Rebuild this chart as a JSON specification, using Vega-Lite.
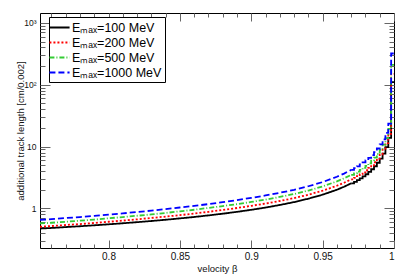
{
  "$schema": "https://vega.github.io/schema/vega-lite/v6.json",
  "width": 354,
  "height": 235,
  "autosize": {"type": "none"},
  "padding": {"left": 40, "top": 13, "right": 13, "bottom": 28},
  "background": "white",
  "data": {"values": [
    {"b":0.752,"v":0.470,"s":"100"},{"b":0.752,"v":0.503,"s":"200"},{"b":0.752,"v":0.569,"s":"500"},{"b":0.752,"v":0.649,"s":"1000"},
    {"b":0.76,"v":0.481,"s":"100"},{"b":0.76,"v":0.517,"s":"200"},{"b":0.76,"v":0.584,"s":"500"},{"b":0.76,"v":0.669,"s":"1000"},
    {"b":0.77,"v":0.497,"s":"100"},{"b":0.77,"v":0.537,"s":"200"},{"b":0.77,"v":0.606,"s":"500"},{"b":0.77,"v":0.696,"s":"1000"},
    {"b":0.78,"v":0.513,"s":"100"},{"b":0.78,"v":0.557,"s":"200"},{"b":0.78,"v":0.631,"s":"500"},{"b":0.78,"v":0.723,"s":"1000"},
    {"b":0.79,"v":0.531,"s":"100"},{"b":0.79,"v":0.579,"s":"200"},{"b":0.79,"v":0.658,"s":"500"},{"b":0.79,"v":0.754,"s":"1000"},
    {"b":0.80,"v":0.551,"s":"100"},{"b":0.80,"v":0.606,"s":"200"},{"b":0.80,"v":0.689,"s":"500"},{"b":0.80,"v":0.788,"s":"1000"},
    {"b":0.81,"v":0.573,"s":"100"},{"b":0.81,"v":0.633,"s":"200"},{"b":0.81,"v":0.722,"s":"500"},{"b":0.81,"v":0.828,"s":"1000"},
    {"b":0.82,"v":0.597,"s":"100"},{"b":0.82,"v":0.663,"s":"200"},{"b":0.82,"v":0.758,"s":"500"},{"b":0.82,"v":0.872,"s":"1000"},
    {"b":0.83,"v":0.623,"s":"100"},{"b":0.83,"v":0.698,"s":"200"},{"b":0.83,"v":0.797,"s":"500"},{"b":0.83,"v":0.916,"s":"1000"},
    {"b":0.84,"v":0.653,"s":"100"},{"b":0.84,"v":0.735,"s":"200"},{"b":0.84,"v":0.842,"s":"500"},{"b":0.84,"v":0.970,"s":"1000"},
    {"b":0.85,"v":0.687,"s":"100"},{"b":0.85,"v":0.776,"s":"200"},{"b":0.85,"v":0.893,"s":"500"},{"b":0.85,"v":1.031,"s":"1000"},
    {"b":0.86,"v":0.724,"s":"100"},{"b":0.86,"v":0.822,"s":"200"},{"b":0.86,"v":0.948,"s":"500"},{"b":0.86,"v":1.093,"s":"1000"},
    {"b":0.87,"v":0.768,"s":"100"},{"b":0.87,"v":0.876,"s":"200"},{"b":0.87,"v":1.014,"s":"500"},{"b":0.87,"v":1.171,"s":"1000"},
    {"b":0.88,"v":0.818,"s":"100"},{"b":0.88,"v":0.941,"s":"200"},{"b":0.88,"v":1.088,"s":"500"},{"b":0.88,"v":1.256,"s":"1000"},
    {"b":0.89,"v":0.876,"s":"100"},{"b":0.89,"v":1.012,"s":"200"},{"b":0.89,"v":1.169,"s":"500"},{"b":0.89,"v":1.358,"s":"1000"},
    {"b":0.90,"v":0.946,"s":"100"},{"b":0.90,"v":1.097,"s":"200"},{"b":0.90,"v":1.268,"s":"500"},{"b":0.90,"v":1.476,"s":"1000"},
    {"b":0.91,"v":1.029,"s":"100"},{"b":0.91,"v":1.194,"s":"200"},{"b":0.91,"v":1.384,"s":"500"},{"b":0.91,"v":1.616,"s":"1000"},
    {"b":0.92,"v":1.132,"s":"100"},{"b":0.92,"v":1.313,"s":"200"},{"b":0.92,"v":1.528,"s":"500"},{"b":0.92,"v":1.783,"s":"1000"},
    {"b":0.93,"v":1.261,"s":"100"},{"b":0.93,"v":1.463,"s":"200"},{"b":0.93,"v":1.702,"s":"500"},{"b":0.93,"v":1.992,"s":"1000"},
    {"b":0.94,"v":1.431,"s":"100"},{"b":0.94,"v":1.660,"s":"200"},{"b":0.94,"v":1.939,"s":"500"},{"b":0.94,"v":2.275,"s":"1000"},
    {"b":0.95,"v":1.662,"s":"100"},{"b":0.95,"v":1.928,"s":"200"},{"b":0.95,"v":2.260,"s":"500"},{"b":0.95,"v":2.659,"s":"1000"},
    {"b":0.96,"v":1.998,"s":"100"},{"b":0.96,"v":2.318,"s":"200"},{"b":0.96,"v":2.727,"s":"500"},{"b":0.96,"v":3.237,"s":"1000"},
    {"b":0.965,"v":2.232,"s":"100"},{"b":0.965,"v":2.589,"s":"200"},{"b":0.965,"v":3.058,"s":"500"},{"b":0.965,"v":3.649,"s":"1000"},
    {"b":0.970,"v":2.537,"s":"100"},{"b":0.970,"v":2.943,"s":"200"},{"b":0.970,"v":3.476,"s":"500"},{"b":0.970,"v":4.186,"s":"1000"},
    {"b":0.972,"v":2.687,"s":"100"},{"b":0.972,"v":3.117,"s":"200"},{"b":0.972,"v":3.681,"s":"500"},{"b":0.972,"v":4.454,"s":"1000"},
    {"b":0.974,"v":2.858,"s":"100"},{"b":0.974,"v":3.315,"s":"200"},{"b":0.974,"v":3.915,"s":"500"},{"b":0.974,"v":4.761,"s":"1000"},
    {"b":0.976,"v":3.055,"s":"100"},{"b":0.976,"v":3.544,"s":"200"},{"b":0.976,"v":4.185,"s":"500"},{"b":0.976,"v":5.114,"s":"1000"},
    {"b":0.978,"v":3.285,"s":"100"},{"b":0.978,"v":3.811,"s":"200"},{"b":0.978,"v":4.500,"s":"500"},{"b":0.978,"v":5.519,"s":"1000"},
    {"b":0.980,"v":3.558,"s":"100"},{"b":0.980,"v":4.127,"s":"200"},{"b":0.980,"v":4.874,"s":"500"},{"b":0.980,"v":5.977,"s":"1000"},
    {"b":0.982,"v":3.886,"s":"100"},{"b":0.982,"v":4.508,"s":"200"},{"b":0.982,"v":5.340,"s":"500"},{"b":0.982,"v":6.549,"s":"1000"},
    {"b":0.984,"v":4.289,"s":"100"},{"b":0.984,"v":4.975,"s":"200"},{"b":0.984,"v":5.910,"s":"500"},{"b":0.984,"v":7.249,"s":"1000"},
    {"b":0.986,"v":4.797,"s":"100"},{"b":0.986,"v":5.565,"s":"200"},{"b":0.986,"v":6.630,"s":"500"},{"b":0.986,"v":8.130,"s":"1000"},
    {"b":0.988,"v":5.461,"s":"100"},{"b":0.988,"v":6.335,"s":"200"},{"b":0.988,"v":7.569,"s":"500"},{"b":0.988,"v":9.283,"s":"1000"},
    {"b":0.990,"v":6.363,"s":"100"},{"b":0.990,"v":7.381,"s":"200"},{"b":0.990,"v":8.844,"s":"500"},{"b":0.990,"v":10.82,"s":"1000"},
    {"b":0.992,"v":7.677,"s":"100"},{"b":0.992,"v":8.905,"s":"200"},{"b":0.992,"v":10.70,"s":"500"},{"b":0.992,"v":13.05,"s":"1000"},
    {"b":0.994,"v":9.78,"s":"100"},{"b":0.994,"v":11.34,"s":"200"},{"b":0.994,"v":13.67,"s":"500"},{"b":0.994,"v":16.63,"s":"1000"},
    {"b":0.996,"v":13.77,"s":"100"},{"b":0.996,"v":15.97,"s":"200"},{"b":0.996,"v":19.28,"s":"500"},{"b":0.996,"v":23.41,"s":"1000"},
    {"b":0.998,"v":110,"s":"100"},{"b":0.998,"v":150,"s":"200"},{"b":0.998,"v":210,"s":"500"},{"b":0.998,"v":320,"s":"1000"},
    {"b":1.000,"v":110,"s":"100"},{"b":1.000,"v":150,"s":"200"},{"b":1.000,"v":210,"s":"500"},{"b":1.000,"v":320,"s":"1000"}
  ]},
  "layer": [
    {
      "transform": [{"filter": "datum.b <= 0.9701"}],
      "mark": {"type": "line", "interpolate": "linear", "strokeWidth": 1.8, "clip": true},
      "encoding": {
        "x": {"field": "b", "type": "quantitative",
          "scale": {"domain": [0.752, 1.0], "nice": false, "zero": false},
          "axis": {"orient": "bottom", "title": "velocity β",
            "values": [0.76,0.77,0.78,0.79,0.8,0.81,0.82,0.83,0.84,0.85,0.86,0.87,0.88,0.89,0.9,0.91,0.92,0.93,0.94,0.95,0.96,0.97,0.98,0.99,1.0],
            "labelExpr": "round(datum.value*1000) % 50 == 0 ? format(datum.value, '~g') : ''",
            "tickSize": {"condition": {"test": "round(datum.value*1000) % 50 == 0", "value": -8}, "value": -4},
            "labelPadding": 11, "labelFontSize": 10, "titleFontSize": 9.5, "titlePadding": 2}},
        "y": {"field": "v", "type": "quantitative",
          "scale": {"type": "log", "domain": [0.228, 1446], "nice": false},
          "axis": {"orient": "left", "title": "additional track length [cm/0.002]",
            "values": [0.3,0.4,0.5,0.6,0.7,0.8,0.9,1,2,3,4,5,6,7,8,9,10,20,30,40,50,60,70,80,90,100,200,300,400,500,600,700,800,900,1000],
            "labelExpr": "datum.value == 1000 ? '10³' : datum.value == 100 ? '10²' : datum.value == 10 ? '10' : datum.value == 1 ? '1' : ''",
            "tickSize": {"condition": {"test": "datum.value == 1 || datum.value == 10 || datum.value == 100 || datum.value == 1000", "value": -10}, "value": -5},
            "labelPadding": 14, "labelFontSize": 8.5, "titleFontSize": 9.5, "titlePadding": -2}},
        "color": {"field": "s", "type": "nominal",
          "scale": {"domain": ["100","200","500","1000"], "range": ["#000000","#ff0000","#33cc33","#0000ff"]},
          "legend": {"orient": "none", "legendX": 9, "legendY": 4, "title": null,
            "labelExpr": "'Eₘₐₓ=' + datum.label + ' MeV'"}},
        "strokeDash": {"field": "s", "type": "nominal",
          "scale": {"domain": ["100","200","500","1000"], "range": [[1,0],[2,2],[5,2,1,2],[6,3]]},
          "legend": {"orient": "none", "legendX": 9, "legendY": 4, "title": null,
            "labelExpr": "'Eₘₐₓ=' + datum.label + ' MeV'"}}
      }
    },
    {
      "transform": [{"filter": "datum.b >= 0.9699"}],
      "mark": {"type": "line", "interpolate": "step-after", "strokeWidth": 1.8, "clip": true},
      "encoding": {
        "x": {"field": "b", "type": "quantitative",
          "scale": {"domain": [0.752, 1.0], "nice": false, "zero": false},
          "axis": {"orient": "top", "title": null, "labels": false,
            "values": [0.76,0.77,0.78,0.79,0.8,0.81,0.82,0.83,0.84,0.85,0.86,0.87,0.88,0.89,0.9,0.91,0.92,0.93,0.94,0.95,0.96,0.97,0.98,0.99,1.0],
            "tickSize": {"condition": {"test": "round(datum.value*1000) % 50 == 0", "value": -8}, "value": -4}}},
        "y": {"field": "v", "type": "quantitative",
          "scale": {"type": "log", "domain": [0.228, 1446], "nice": false},
          "axis": {"orient": "right", "title": null, "labels": false,
            "values": [0.3,0.4,0.5,0.6,0.7,0.8,0.9,1,2,3,4,5,6,7,8,9,10,20,30,40,50,60,70,80,90,100,200,300,400,500,600,700,800,900,1000],
            "tickSize": {"condition": {"test": "datum.value == 1 || datum.value == 10 || datum.value == 100 || datum.value == 1000", "value": -10}, "value": -5}}},
        "color": {"field": "s", "type": "nominal",
          "scale": {"domain": ["100","200","500","1000"], "range": ["#000000","#ff0000","#33cc33","#0000ff"]}},
        "strokeDash": {"field": "s", "type": "nominal",
          "scale": {"domain": ["100","200","500","1000"], "range": [[1,0],[2,2],[5,2,1,2],[6,3]]}}
      }
    }
  ],
  "resolve": {"axis": {"x": "independent", "y": "independent"}},
  "config": {
    "font": "Liberation Sans",
    "view": {"stroke": "#000000", "strokeWidth": 1},
    "axis": {"domain": false, "grid": false, "tickColor": "#666666", "tickWidth": 1, "labelColor": "#111111", "titleColor": "#111111", "titleFontWeight": "normal", "labelFont": "Liberation Sans", "titleFont": "Liberation Sans"},
    "legend": {
      "labelFontSize": 12.5, "labelFont": "Liberation Sans", "labelColor": "#000000",
      "symbolType": "M-1.55,0H1.55", "symbolSize": 169, "symbolStrokeWidth": 2, "symbolFillColor": "transparent",
      "labelOffset": 5, "rowPadding": 1, "padding": 3,
      "fillColor": "#ffffff", "strokeColor": "#000000", "strokeWidth": 1
    }
  }
}
